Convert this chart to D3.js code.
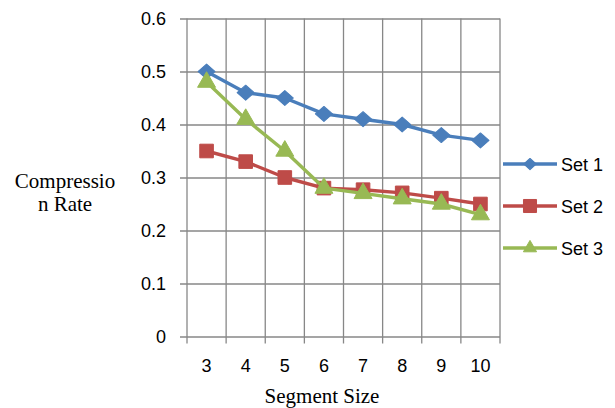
<!DOCTYPE html>
<html>
<head>
<meta charset="utf-8">
<script src="https://cdn.jsdelivr.net/npm/d3@7"></script>
<style>
	body { margin:0; background:#fff; }
	svg { display:block; }
</style>
</head>
<body>
<div id="chart"></div>
<script>
	// Data
	var segmentSizes = ['3','4','5','6','7','8','9','10'];
	var set1 = [0.50, 0.46, 0.45, 0.42, 0.41, 0.40, 0.38, 0.37];
	var set2 = [0.35, 0.33, 0.30, 0.28, 0.277, 0.271, 0.261, 0.25];
	var set3 = [0.48, 0.41, 0.35, 0.28, 0.27, 0.26, 0.25, 0.23];
	var seriesNames = ['Set 1','Set 2','Set 3'];
	var yTicks = [0, 0.1, 0.2, 0.3, 0.4, 0.5, 0.6];

(function(){
	var W = 615, H = 408;
	var plotL = 187, plotR = 500, plotT = 18.5, plotB = 336.5;
	var sans = '"Liberation Sans", Arial, sans-serif';
	var serif = '"Liberation Serif", "Times New Roman", serif';

	var svg = d3.select('#chart')
		.append('svg')
		.attr('width',W)
		.attr('height',H);

	var x = d3.scaleBand()
		.domain(segmentSizes)
		.range([plotL,plotR])
		.padding(0);

	var y = d3.scaleLinear()
		.domain([0,0.6])
		.range([plotB,plotT]);

	var gridColor = '#878787';

	// horizontal grid + y ticks
	var yAxis = d3.axisLeft(y)
		.tickValues(yTicks)
		.tickSize(-(plotR-plotL))
		.tickPadding(21)
		.tickFormat(function(d){ return d===0 ? '0' : d3.format('.1f')(d); });

	var gy = svg.append('g')
		.attr('transform','translate('+plotL+',0)')
		.call(yAxis);
	gy.select('.domain').remove();
	gy.selectAll('.tick line')
		.attr('x1',-7)
		.attr('stroke',gridColor)
		.attr('stroke-width',1.3);
	gy.selectAll('.tick text')
		.attr('font-family',sans)
		.attr('font-size',18)
		.attr('fill','#000');

	// vertical grid lines at band edges
	var edges = segmentSizes.map(function(d){ return x(d); }).concat([plotR]);
	svg.append('g').selectAll('line')
		.data(edges)
		.enter()
		.append('line')
		.attr('x1',function(d){ return d; })
		.attr('x2',function(d){ return d; })
		.attr('y1',plotT)
		.attr('y2',plotB+7)
		.attr('stroke',gridColor)
		.attr('stroke-width',1.3);

	// x tick labels
	svg.append('g').selectAll('text')
		.data(segmentSizes)
		.enter()
		.append('text')
		.attr('x',function(d){ return x(d)+x.bandwidth()/2; })
		.attr('y',372)
		.attr('text-anchor','middle')
		.attr('font-family',sans)
		.attr('font-size',18)
		.text(function(d){ return d; });

	// axis titles
	svg.append('text')
		.attr('x',322)
		.attr('y',403)
		.attr('text-anchor','middle')
		.attr('font-family',serif)
		.attr('font-size',21)
		.text('Segment Size');

	var yTitle = svg.append('text')
		.attr('text-anchor','middle')
		.attr('font-family',serif)
		.attr('font-size',21);
	yTitle.append('tspan').attr('x',65).attr('y',188).text('Compressio');
	yTitle.append('tspan').attr('x',65).attr('y',211).text('n Rate');

	// series; diamond = square turned 45 degrees, slightly wider than tall
	var series = [
		{ name: seriesNames[0], values: set1, color: '#4a7ebb', shape: d3.symbolSquare, size: 125, legendSize: 70, rot: 'rotate(45) ', sx: 1.08, sy: 0.95 }
		,{ name: seriesNames[1], values: set2, color: '#be4b48', shape: d3.symbolSquare, size: 185, legendSize: 170, rot: '', sx: 1, sy: 1 }
		,{ name: seriesNames[2], values: set3, color: '#98b954', shape: d3.symbolTriangle, size: 140, legendSize: 75, rot: '', sx: 1, sy: 1 }
	];

	function markerTransform(s,px,py){
		return 'translate('+px+','+py+') scale('+s.sx+','+s.sy+') '+s.rot;
	}

	var line = d3.line()
		.x(function(d,i){ return x(segmentSizes[i])+x.bandwidth()/2; })
		.y(function(d){ return y(d); });

	series.forEach(function(s){
		var g = svg.append('g');
		g.append('path')
			.attr('d',line(s.values))
			.attr('fill','none')
			.attr('stroke',s.color)
			.attr('stroke-width',3.4)
			.attr('stroke-linejoin','round');
		g.selectAll('path.marker')
			.data(s.values)
			.enter()
			.append('path')
			.attr('class','marker')
			.attr('d',d3.symbol().type(s.shape).size(s.size))
			.attr('transform',function(d,i){
				return markerTransform(s, x(segmentSizes[i])+x.bandwidth()/2, y(d));
			})
			.attr('fill',s.color)
			.attr('stroke',s.color)
			.attr('stroke-width',1)
			.attr('stroke-linejoin','round');
	});

	// legend
	var legend = svg.append('g');
	series.forEach(function(s,i){
		var ly = 164 + i*42;
		legend.append('line')
			.attr('x1',503).attr('x2',557)
			.attr('y1',ly).attr('y2',ly)
			.attr('stroke',s.color)
			.attr('stroke-width',3.4);
		legend.append('path')
			.attr('d',d3.symbol().type(s.shape).size(s.legendSize))
			.attr('transform',markerTransform(s,530,ly))
			.attr('fill',s.color)
			.attr('stroke',s.color)
			.attr('stroke-width',1)
			.attr('stroke-linejoin','round');
		legend.append('text')
			.attr('x',561)
			.attr('y',ly+6.5)
			.attr('font-family',sans)
			.attr('font-size',18)
			.text(s.name);
	});
})();
</script>
</body>
</html>
